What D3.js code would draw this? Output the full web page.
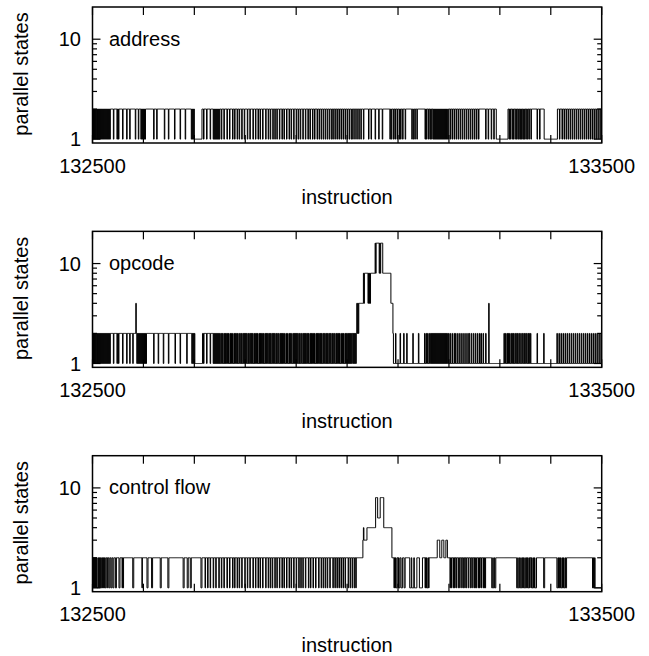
<!DOCTYPE html>
<html><head><meta charset="utf-8">
<script src="https://cdn.jsdelivr.net/npm/d3@7"></script>
<style>
body{margin:0;background:#fff}
text{font-family:"Liberation Sans",Arial,Helvetica,sans-serif;font-size:20px;fill:#000}
</style>
</head><body>
<svg id="chart" width="649" height="656"></svg>
<script>
// ---------------- data ----------------
const firstInstruction = 132500;
const lastInstruction = 133500;
const panelNames = ["address", "opcode", "control flow"];
const xTickValues = [132500,132600,132700,132800,132900,133000,133100,133200,133300,133400,133500];
const xTickLabels = [132500, 133500];
const yTickLabels = [1, 10];
const yMinorTicks = [2,3,4,5,6,7,8,9];
const yAxisTitle = "parallel states";
const xAxisTitle = "instruction";
// parallel states per instruction, one character per instruction (G = 16)
const addressStates = [
 "2121212212","1212121212","1212121212","1212122222","2122222212",
 "2122222221","2222222122","2221222222","2222122222","1222212121",
 "2121222222","2222222222","1222221222","2222222222","2122222221",
 "2222222222","2122222222","2212222222","2212222222","2222121212",
 "1111111111","1111122212","2222122222","2122222121","2121212121",
 "2221222212","2222122221","2222212221","2222122212","2221222212",
 "2222122221","2222212222","1222212221","2222122222","1222212221",
 "2222122212","2212222122","2212221222","2122221222","1222212222",
 "1222122212","2221222212","2221222122","2212221222","2122212221",
 "2221222122","2122212221","2212221222","1222122212","2212221222",
 "1222122212","2122212221","2221222122","2212222222","2212222122",
 "2222212222","2212222221","2222222222","2222122122","2122122212",
 "2212212221","2222122222","2222222122","1221222122","2222222222",
 "2221221222","1221221221","2121212121","2121212121","2121212112",
 "2212221222","1222122212","2212221222","1222122212","2212221222",
 "1222122212","2222222222","2212222122","2221222212","2221111111",
 "1111111111","1111112212","2122212122","2121221221","2121221212",
 "2122122122","2122222222","2221222212","2222222111","1111111111",
 "1111111111","1112222122","2212221222","1222122212","2212221222",
 "1222122212","2212221222","1222122212","2212221222","1222122212"
];
const opcodeStates = [
 "2121212212","1212121212","1212121212","1212122222","2122222212",
 "2122222221","2222222122","2221222221","2222242121","2121212121",
 "2121212222","2222222222","1222222221","2222222221","2222222221",
 "2222222222","2212222222","2212222222","2222212222","2222212121",
 "2111111111","1111112212","2222122222","2122222121","2121212121",
 "2112121121","2121121211","2121121121","2112121121","1212112121",
 "2121121211","2121211212","1121211212","1211212112","1212112121",
 "2112121211","2121121121","2121211211","2112112121","1211212121",
 "2121121211","2112121212","1121211212","1211212112","1212112121",
 "2112121121","2121121211","2121121121","2112121121","1212112121",
 "1212121212","2121212124","2424444444","4484888888","8484848888",
 "88888G8GGG","GGG8G8GGGG","8888888888","8888884444","2111121111",
 "1111211111","1211111211","1111111112","1111111111","2111111111",
 "1121121121","1211212121","2121212121","2121212121","2121212112",
 "1121112111","2112111211","1211121112","1112111211","2111211121",
 "1121112111","2112111211","1121111141","1111111111","1111111111",
 "1111111121","1211212112","1121121211","2112121121","1211211212",
 "1121121211","2111111111","1112111111","1111112111","1111111111",
 "1111111111","1121112111","2111211121","1121112111","2111211121",
 "1121112111","2111211121","1121112111","2111211121","1121112111"
];
const controlFlowStates = [
 "2121212121","1212121121","2121211221","2211221122","1122211222",
 "2211222212","1222222222","2222222221","1222222222","2222222122",
 "2222222112","2222221122","2222222222","2221122222","2222222211",
 "2222222222","2222222222","2222222211","2222221122","2211222222",
 "2222222222","2221122222","2122221222","2122222122","2212222212",
 "2221222212","2222122221","2222212221","2222122212","2221222221",
 "2222122221","2222212222","1222212221","2222122222","1222212221",
 "2221222212","2212222122","2212221222","2122221222","1222212222",
 "1222212221","2221222212","2222122212","2221222212","2222122221",
 "2221222122","2122221222","2212221222","1222122212","2212221222",
 "2212221222","1222122122","2222222222","2343333334","4444444444",
 "4444448888","5555588888","8844444444","4444444422","2212121122",
 "1211221112","2211222222","2221112111","1211111222","2211111122",
 "2221212112","1222222222","2222222333","3322223333","2222333222",
 "2212212221","2122122212","2122212212","2122122212","2212212221",
 "2122122212","1221222121","2122222222","2222112112","1122222222",
 "2222222222","2222222222","2222222222","2221121121","1211212112",
 "1121211212","2121121121","1122222222","2222221122","2222222222",
 "2222222222","2211212112","1121121121","1222222222","2222222222",
 "2222222222","2222222222","2222222222","2212112111","1111111111"
];
const panelStates = [addressStates, opcodeStates, controlFlowStates];

// ---------------- layout ----------------
const svg = d3.select("#chart");
const left = 92.5, right = 601.7;
const panelTops = [7, 231.35, 455.7];
const plotH = 136;

const parse = s => Array.from(s.join(""), c => c === "G" ? 16 : +c);

const x = d3.scaleLinear().domain([firstInstruction, lastInstruction]).range([left, right]);

panelTops.forEach((top, k) => {
  const g = svg.append("g");
  const y = d3.scaleLog().domain([0.915, 21]).range([top + plotH, top]);
  const vals = parse(panelStates[k]);
  const pts = vals.map((v, i) => [firstInstruction + i, v]);
  pts.push([firstInstruction + vals.length, vals[vals.length - 1]]);

  const clipId = "clip" + k;
  svg.append("clipPath").attr("id", clipId).append("rect")
    .attr("x", left).attr("y", top).attr("width", right - left).attr("height", plotH);

  g.append("path")
    .attr("clip-path", `url(#${clipId})`)
    .attr("d", d3.line().x(d => x(d[0])).y(d => y(d[1])).curve(d3.curveStepAfter)(pts))
    .attr("fill", "none").attr("stroke", "#000").attr("stroke-width", 1);

  // axes (ticks inward, mirrored)
  const tickLen = 8, minorLen = 4.5;
  const axG = g.append("g").attr("stroke", "#000").attr("stroke-width", 1.2);
  xTickValues.forEach(t => {
    axG.append("line").attr("x1", x(t)).attr("x2", x(t)).attr("y1", top + plotH).attr("y2", top + plotH - tickLen);
    axG.append("line").attr("x1", x(t)).attr("x2", x(t)).attr("y1", top).attr("y2", top + tickLen);
  });
  yTickLabels.forEach(t => {
    axG.append("line").attr("x1", left).attr("x2", left + tickLen).attr("y1", y(t)).attr("y2", y(t));
    axG.append("line").attr("x1", right).attr("x2", right - tickLen).attr("y1", y(t)).attr("y2", y(t));
  });
  yMinorTicks.forEach(t => {
    axG.append("line").attr("x1", left).attr("x2", left + minorLen).attr("y1", y(t)).attr("y2", y(t));
    axG.append("line").attr("x1", right).attr("x2", right - minorLen).attr("y1", y(t)).attr("y2", y(t));
  });

  g.append("rect").attr("x", left).attr("y", top).attr("width", right - left).attr("height", plotH)
    .attr("fill", "none").attr("stroke", "#000").attr("stroke-width", 1.5);

  // tick labels
  yTickLabels.forEach(t => {
    g.append("text").attr("x", 81).attr("y", y(t)).attr("dy", "0.36em")
      .attr("text-anchor", "end").text(t);
  });
  xTickLabels.forEach(t => {
    g.append("text").attr("x", x(t)).attr("y", top + plotH + 29.5)
      .attr("text-anchor", "middle").text(t);
  });
  g.append("text").attr("x", (left + right) / 2).attr("y", top + 196.5)
    .attr("text-anchor", "middle").text(xAxisTitle);
  g.append("text").attr("transform", `translate(28,${top + 67}) rotate(-90)`)
    .attr("text-anchor", "middle").text(yAxisTitle);
  g.append("text").attr("x", 109).attr("y", top + 38.7).text(panelNames[k]);
});
</script>
</body></html>
